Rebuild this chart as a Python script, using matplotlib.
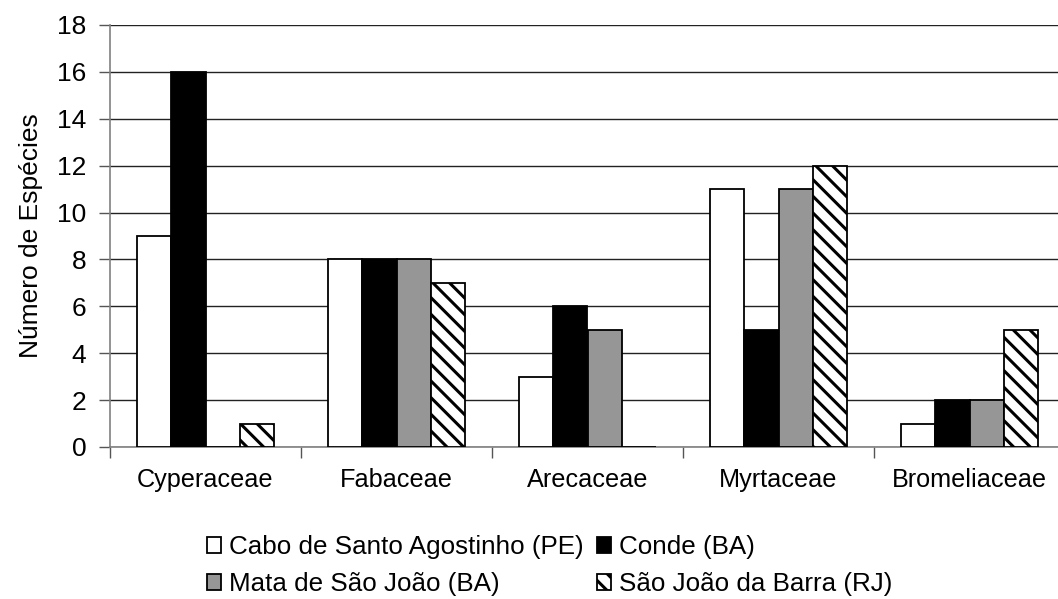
import matplotlib
matplotlib.use("Agg")
import matplotlib.pyplot as plt
import numpy as np

categories = ["Cyperaceae", "Fabaceae", "Arecaceae", "Myrtaceae", "Bromeliaceae"]
series_names = ["Cabo de Santo Agostinho (PE)", "Conde (BA)", "Mata de São João (BA)", "São João da Barra (RJ)"]
cabo = [9, 8, 3, 11, 1]
conde = [16, 8, 6, 5, 2]
mata = [0, 8, 5, 11, 2]
sjb = [1, 7, 0, 12, 5]
yticks = [0, 2, 4, 6, 8, 10, 12, 14, 16, 18]

plt.rcParams['font.family'] = ['Liberation Sans', 'DejaVu Sans']
plt.rcParams['hatch.linewidth'] = 2.2

W, H = 1058, 599
fig = plt.figure(figsize=(W / 100, H / 100), dpi=100)
left, right, top, bottom = 110, 1065, 25, 447
ax = fig.add_axes([left / W, 1 - bottom / H, (right - left) / W, (bottom - top) / H])

x = np.arange(len(categories))
bw = 0.18
styles = [
    dict(color="white", edgecolor="black", hatch=None),
    dict(color="black", edgecolor="black", hatch=None),
    dict(color="#969696", edgecolor="black", hatch=None),
    dict(color="white", edgecolor="black", hatch="\\\\"),
]
data = [cabo, conde, mata, sjb]
handles = []
for i, (vals, st) in enumerate(zip(data, styles)):
    offs = (i - 1.5) * bw
    bars = ax.bar(x + offs, vals, width=bw, facecolor=st["color"], edgecolor=st["edgecolor"],
                  hatch=st["hatch"], linewidth=1.3, zorder=3, label=series_names[i])
    handles.append(bars)

ax.set_xlim(-0.5, len(categories) - 0.5)
ax.set_ylim(0, 18)
ax.set_yticks(yticks)
ax.set_yticklabels([str(v) for v in yticks], fontsize=19)
ax.yaxis.grid(True, color="#222222", linewidth=1.0, zorder=0)
ax.set_axisbelow(True)

ax.set_xticks(np.arange(len(categories) + 1) - 0.5)
ax.set_xticklabels([])
ax.set_xticks(x, minor=True)
ax.set_xticklabels(categories, minor=True, fontsize=18.2)
ax.tick_params(axis="x", which="minor", length=0, pad=15)
ax.tick_params(axis="x", which="major", length=8, color="#555555", width=1)
ax.tick_params(axis="y", length=8, color="#555555", width=1, pad=9)

for s in ["top", "right"]:
    ax.spines[s].set_visible(False)
ax.spines["left"].set_color("#808080")
ax.spines["left"].set_linewidth(1.2)
ax.spines["bottom"].set_color("#808080")
ax.spines["bottom"].set_linewidth(1.2)

ax.set_ylabel("Número de Espécies", fontsize=19, labelpad=10)

order = [0, 2, 1, 3]
leg = fig.legend([handles[i] for i in order], [series_names[i] for i in order],
                 ncol=2, loc="upper left", bbox_to_anchor=(194 / W, 1 - 522 / H),
                 frameon=False, fontsize=18.7, handlelength=0.55, handleheight=0.55,
                 handletextpad=0.3, columnspacing=0.5, labelspacing=0.5, borderpad=0)

fig.savefig("out.png", dpi=100)
